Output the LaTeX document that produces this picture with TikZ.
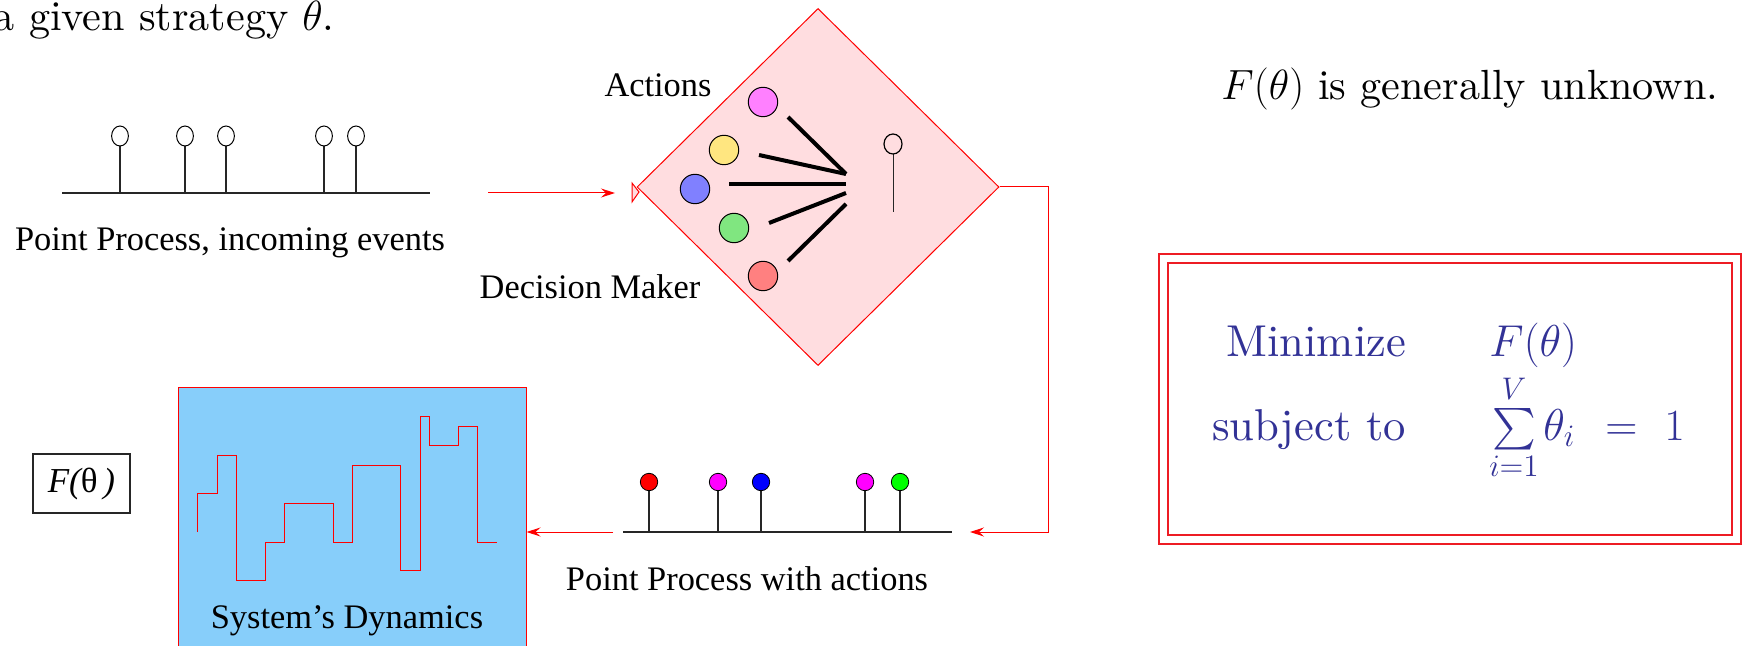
\RequirePackage{fix-cm}
\documentclass[tikz,border=0pt]{standalone}
\usepackage{amsmath}
\usepackage{fontspec}
\setmainfont{lmroman10-regular.otf}[ItalicFont=lmroman10-italic.otf, BoldFont=lmroman10-bold.otf]
\newfontfamily\tms{Liberation Serif}
\usetikzlibrary{shapes.geometric,arrows.meta}
\definecolor{dmfill}{HTML}{FFDDE0}
\definecolor{sysblue}{HTML}{87CEFA}
\definecolor{boxred}{HTML}{ED1C24}
\definecolor{mathblue}{RGB}{50,50,150}
\definecolor{cmag}{HTML}{FF80FF}
\definecolor{cyel}{HTML}{FFE680}
\definecolor{cblu}{HTML}{8080FF}
\definecolor{cgrn}{HTML}{80E680}
\definecolor{cred}{HTML}{FF8080}
\definecolor{pred}{RGB}{255,0,0}
\definecolor{pmag}{RGB}{255,0,255}
\definecolor{pblu}{RGB}{0,0,255}
\definecolor{pgrn}{RGB}{0,255,0}
\tikzset{
  lm/.style={font=\fontsize{21.1pt}{25pt}\selectfont, inner sep=0pt, anchor=base west},
  lmm/.style={font=\fontsize{22.3pt}{26pt}\selectfont, inner sep=0pt, anchor=base west, text=mathblue},
  tl/.style={font=\tms\fontsize{17.2pt}{20pt}\selectfont, inner sep=0pt, anchor=base},
  ppline/.style={draw=black!85, line width=0.7pt},
  stem/.style={draw=black!85, line width=0.6pt},
  ev/.style={draw=black, line width=0.5pt},
  arr/.style={draw=red, line width=0.5pt, -{Stealth[length=7pt,width=4.5pt,inset=2.5pt]}},
  redline/.style={draw=red, line width=0.5pt},
  fan/.style={draw=black, line width=2pt},
  act/.style={draw=black, line width=0.5pt, circle, minimum size=14.7pt, inner sep=0pt},
  dot/.style={draw=black, line width=0.4pt, circle, minimum size=8.7pt, inner sep=0pt},
}
\begin{document}
\begin{tikzpicture}[x=0.5pt,y=-0.5pt]
\useasboundingbox (0,0) rectangle (1748,646);
\clip (0,0) rectangle (1748,646);

% top text
\node[lm, anchor=base east] (toptext) at (335,31) {a given strategy $\theta$.};
\node[lm] (unknown) at (1221,100) {$F(\theta)$ is generally unknown.};

% incoming point process
\draw[ppline] (62,193) coordinate (p1s) -- (430,193) coordinate (p1e);
\foreach \x in {120,185,226,324,356}{
  \draw[stem] (\x,146) -- (\x,193);
  \draw[ev] (\x,136) ellipse [x radius=4.2pt, y radius=5pt];
}
\node[tl] (lbl1) at (230,251) {Point Process, incoming events};

% decision maker diamond
\node[diamond, draw=red, line width=0.5pt, fill=dmfill, minimum width=181pt, minimum height=178.5pt, inner sep=0pt] (dm) at (818,187) {};
\draw[red, line width=0.5pt, fill=dmfill] (632,183) -- (632,202) -- (639,192) -- cycle;
\node[tl] (actions) at (658,97) {Actions};
\node[tl] (decmaker) at (590,299) {Decision Maker};

\node[act, fill=cmag] (c1) at (763,102) {};
\node[act, fill=cyel] (c2) at (724,150) {};
\node[act, fill=cblu] (c3) at (695,189) {};
\node[act, fill=cgrn] (c4) at (734,228) {};
\node[act, fill=cred] (c5) at (763,276) {};
\draw[fan] (788,117) -- (846,174);
\draw[fan] (759,155) -- (846,174);
\draw[fan] (729,184) -- (846,184);
\draw[fan] (769,223) -- (846,193);
\draw[fan] (788,261) -- (846,204);
\draw[stem, line width=0.5pt] (893,154) -- (893,212);
\draw[black, line width=0.6pt] (893,144) ellipse [x radius=4.5pt, y radius=5pt];

% arrow into decision maker
\coordinate (a1) at (488,193);
\coordinate (a2) at (615,193);
\draw[arr] (a1) -- (a2);

% feedback connector
\coordinate (fbx) at (1048,187);
\coordinate (b2) at (970,532);
\draw[arr] (dm.east) -- (dm.east -| fbx) |- (b2);

% point process with actions
\draw[ppline] (623,532) coordinate (p2s) -- (952,532) coordinate (p2e);
\foreach \x/\c in {649/pred,718/pmag,761/pblu,865/pmag,900/pgrn}{
  \draw[stem] (\x,491) -- (\x,532);
  \node[dot, fill=\c] at (\x,482) {};
}
\node[tl] (lbl2) at (747,590) {Point Process with actions};

% system dynamics box
\node[draw=red, line width=0.5pt, fill=sysblue, minimum width=174pt, minimum height=141.5pt, inner sep=0pt] (sys) at (352,528.5) {};
\coordinate (b3) at (613,532);
\draw[arr] (b3) -- (sys.east |- b3);
\draw[redline] (197.5,532) -- (197.5,493) -- (217,493) -- (217,455) -- (236.4,455) -- (236.4,580)
  -- (265.4,580) -- (265.4,542) -- (284.6,542) -- (284.6,503) -- (333.2,503) -- (333.2,542)
  -- (352.5,542) -- (352.5,465) -- (400.7,465) -- (400.7,570) -- (420,570) -- (420,416)
  -- (429.6,416) -- (429.6,445) -- (458.6,445) -- (458.6,426) -- (477.9,426) -- (477.9,542) -- (497.1,542);
\node[tl] (sysl) at (347,628) {System’s Dynamics};

% F(theta) box
\node[draw=black!85, line width=0.6pt, minimum width=48.5pt, minimum height=29.5pt, inner sep=0pt,
  font=\tms\fontsize{17.5pt}{20pt}\selectfont] (fbox) at (81.5,483.5) {{\itshape F(}θ{\itshape\,)}};

% optimisation box
\draw[boxred, line width=1pt] (1159,254) rectangle (1741,544);
\draw[boxred, line width=1pt] (1168,263) rectangle (1732,535);
\node[lmm] (minz) at (1226,357) {Minimize};
\node[lmm] (fobj) at (1489,357) {$F(\theta)$};
\node[lmm] (subj) at (1212,440) {subject to};
\node[lmm, anchor=base] (sumv) at (1514,440) {$\textstyle\sum\limits_{i=1}^{V}$};
\node[lmm] (thi) at (1543,440) {$\theta_i$};
\node[lmm] (eq) at (1605,440) {$=$};
\node[lmm] (one) at (1664,440) {$1$};
\end{tikzpicture}
\end{document}
